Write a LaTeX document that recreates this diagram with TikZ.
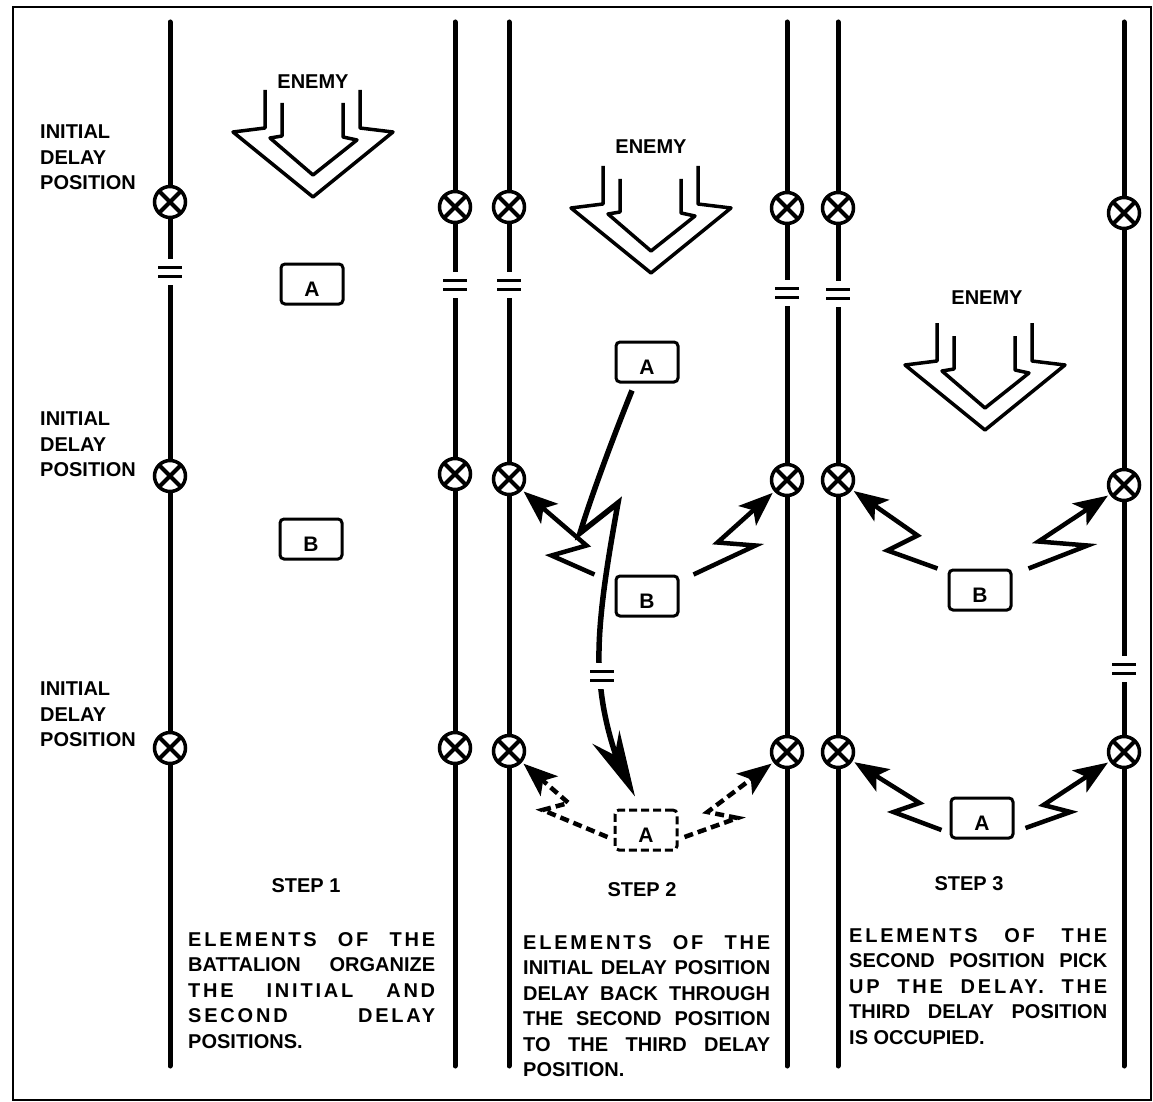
\documentclass[tikz,border=0pt]{standalone}
\usepackage{fontspec}
\setmainfont{Liberation Sans}
\usetikzlibrary{arrows.meta}

\newcommand{\fullline}[2]{\makebox[#1][s]{#2}}
\newcommand{\wideline}[2]{\makebox[#1][s]{\addfontfeature{LetterSpace=14}#2}}

\tikzset{
  track/.style={line width=5pt, line cap=round},
  posn/.style={circle, draw, line width=3.5pt, fill=white, minimum size=31pt, inner sep=0pt,
    path picture={\draw[line width=4pt]
      (path picture bounding box.north west) -- (path picture bounding box.south east)
      (path picture bounding box.north east) -- (path picture bounding box.south west);}},
  gapmark/.style={fill=white, inner sep=0pt, minimum width=30pt, minimum height=26pt,
    path picture={\draw[line width=3.5pt]
      ([xshift=3pt,yshift=4.5pt]path picture bounding box.west) -- ([xshift=-3pt,yshift=4.5pt]path picture bounding box.east)
      ([xshift=3pt,yshift=-4.5pt]path picture bounding box.west) -- ([xshift=-3pt,yshift=-4.5pt]path picture bounding box.east);}},
  lbl/.style={font=\bfseries\fontsize{20}{25.5}\selectfont, inner sep=0pt},
  para/.style={lbl, align=left, anchor=north west},
  unit/.style={draw, line width=3pt, rounded corners=4pt, minimum width=62pt, minimum height=40pt,
    inner sep=0pt, text height=25pt, text depth=0pt, font=\bfseries\fontsize{21}{22}\selectfont},
  ghost/.style={unit, dash pattern=on 8pt off 4pt},
  zig/.style={line width=4.5pt, shorten >=2pt, -{Stealth[length=34pt,width=26pt,inset=8pt]}},
  ghostzig/.style={zig, dash pattern=on 9pt off 5pt},
  lead/.style={line width=5.5pt, -{Stealth[length=66pt,width=30pt,inset=20pt]}},
  enemy/.pic={
    \draw[line width=3.5pt, line join=round]
      (-48,-107) -- (-48,-69) -- (-80,-65) -- (0,0) -- (80,-65) -- (47,-69) -- (47,-107);
    \draw[line width=3.5pt, line join=round]
      (-31,-94) -- (-31,-61) -- (-43,-59) -- (0,-22) -- (44,-57) -- (30,-60) -- (30,-94);
  }
}

\begin{document}
\begin{tikzpicture}[x=1pt,y=-1pt]
  \useasboundingbox (0,0) rectangle (1153,1102);
  \draw[line width=1.6pt] (13,7) rectangle (1151,1100);

  \foreach \n/\x/\ya/\yb/\yc/\yg in {1/170/202/476/748/272, 2/455/207/474/748/285,
      3/509/207/479/751/285, 4/787/208/480/752/293, 5/838/208/480/752/294, 6/1124/213/485/752/669}{
    \draw[track] (\x,22) -- (\x,1066);
    \node[gapmark] (g\n) at (\x,\yg) {};
    \node[posn] (c\n-1) at (\x,\ya) {};
    \node[posn] (c\n-2) at (\x,\yb) {};
    \node[posn] (c\n-3) at (\x,\yc) {};
  }

  \node[para] (lab1) at (40,125) {INITIAL\\DELAY\\POSITION};
  \node[para] (lab2) at (40,412) {INITIAL\\DELAY\\POSITION};
  \node[para] (lab3) at (40,682) {INITIAL\\DELAY\\POSITION};

  \begin{scope}
    \pic at (313,197) {enemy};
    \node[lbl] (en1) at (313,82) {ENEMY};
    \node[unit] (A1) at (312,284) {A};
    \node[unit] (B1) at (311,539) {B};
    \node[lbl] (s1) at (306,886) {STEP 1};
    \node[para] (t1) at (188,932) {\wideline{247pt}{ELEMENTS OF THE}\\
      \fullline{247pt}{BATTALION ORGANIZE}\\
      \wideline{247pt}{THE INITIAL AND}\\
      \wideline{247pt}{SECOND DELAY}\\
      POSITIONS.};
  \end{scope}

  \begin{scope}
    \pic at (651,273) {enemy};
    \node[lbl] (en2) at (651,147) {ENEMY};
    \node[unit] (A2) at (647,362) {A};
    \node[unit] (B2) at (647,596) {B};
    \node[ghost] (A2d) at (646,830) {A};
    \draw[lead] ([xshift=-15pt,yshift=-7pt]A2.south) .. controls (612,440) and (590,500) .. (580,533)
      -- (618,503) .. controls (606,570) and (594,640) .. (601,690)
      .. controls (606,735) and (622,770) .. ([xshift=-11pt,yshift=12pt]A2d.north);
    \node[gapmark] (g7) at (602,676) {};
    \draw[zig] ([xshift=-20pt]B2.north west) -- ++(-43,-19) -- ++(35,-10) -- (c3-2);
    \draw[zig] ([xshift=14pt]B2.north east) -- ++(62,-29) -- ++(-38,-3) -- (c4-2);
    \draw[ghostzig] ([xshift=-6pt,yshift=-7pt]A2d.west) -- ++(-65,-27) -- ++(26,-7) -- (c3-3);
    \draw[ghostzig] ([xshift=6pt,yshift=-7pt]A2d.east) -- ++(53,-19) -- ++(-30,-6) -- (c4-3);
    \node[lbl] (s2) at (642,890) {STEP 2};
    \node[para] (t2) at (523,935) {\wideline{247pt}{ELEMENTS OF THE}\\
      \fullline{247pt}{INITIAL DELAY POSITION}\\
      \fullline{247pt}{DELAY BACK THROUGH}\\
      \fullline{247pt}{THE SECOND POSITION}\\
      \fullline{247pt}{TO THE THIRD DELAY}\\
      POSITION.};
  \end{scope}

  \begin{scope}
    \pic at (985,430) {enemy};
    \node[lbl] (en3) at (987,298) {ENEMY};
    \node[unit] (B3) at (980,590) {B};
    \node[unit] (A3) at (982,818) {A};
    \draw[zig] ([xshift=-10pt]B3.north west) -- ++(-50,-18) -- ++(30,-15) -- (c5-2);
    \draw[zig] ([xshift=16pt]B3.north east) -- ++(59,-23) -- ++(-49,-4) -- (c6-2);
    \draw[zig] ([xshift=-8pt,yshift=-12pt]A3.west) -- ++(-48,-18) -- ++(26,-9) -- (c5-3);
    \draw[zig] ([xshift=11pt,yshift=-10pt]A3.east) -- ++(45,-16) -- ++(-27,-7) -- (c6-3);
    \node[lbl] (s3) at (969,884) {STEP 3};
    \node[para] (t3) at (849,928) {\wideline{258pt}{ELEMENTS OF THE}\\
      \fullline{258pt}{SECOND POSITION PICK}\\
      \wideline{258pt}{UP THE DELAY. THE}\\
      \fullline{258pt}{THIRD DELAY POSITION}\\
      IS OCCUPIED.};
  \end{scope}
\end{tikzpicture}
\end{document}
